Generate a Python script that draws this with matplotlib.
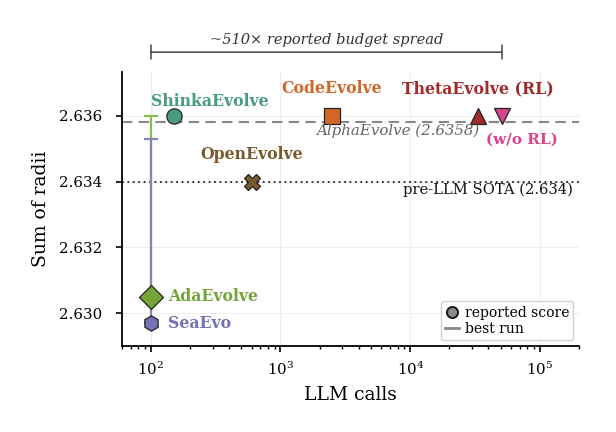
import numpy as np
from matplotlib import pyplot as plt
from matplotlib.lines import Line2D

plt.rcParams['font.family'] = 'DejaVu Serif'

# methods, LLM calls, reported score
names = ["ShinkaEvolve", "CodeEvolve", "ThetaEvolve (RL)", "(w/o RL)", "OpenEvolve", "AdaEvolve", "SeaEvo"]
calls = [150, 2500, 33000, 51000, 600, 100, 100]
scores = [2.6360, 2.6360, 2.6360, 2.6360, 2.6340, 2.6305, 2.6297]
markers = ["o", "s", "^", "v", "X", "D", "h"]
colors = ["#4a9d7c", "#d2672a", "#a32a2a", "#d9448f", "#7a5a2c", "#76a33a", "#7372b5"]
sizes = [11, 11, 11, 11, 11, 12, 11]

# best run (vertical bars) for AdaEvolve and SeaEvo
best_names = ["AdaEvolve", "SeaEvo"]
best_calls = [100, 100]
best_low = [2.6305, 2.6297]
best_high = [2.6360, 2.6353]
best_colors = ["#8cba55", "#8587b3"]

alpha_evolve = 2.6358
pre_llm = 2.634

fig = plt.figure(figsize=(6.16, 4.32), dpi=100)
ax = fig.add_axes([0.198, 0.199, 0.742, 0.634])

ax.set_xscale("log")
ax.set_xlim(60, 2e5)
ax.set_ylim(2.629, 2.63733)

ax.grid(True, which="major", color="#eeeeee", linewidth=0.8)
ax.set_axisbelow(True)

ax.axhline(alpha_evolve, color="#888888", linestyle=(0, (5, 3)), linewidth=1.5, zorder=1)
ax.axhline(pre_llm, color="#222222", linestyle=(0, (1, 2)), linewidth=1.3, zorder=1)

for i in range(len(best_names)):
	ax.errorbar([best_calls[i]], [best_low[i]], yerr=[[0], [best_high[i] - best_low[i]]],
		fmt="none", ecolor=best_colors[i], elinewidth=1.6, capsize=5, capthick=1.6, zorder=2)

for i in range(len(names)):
	ax.plot(calls[i], scores[i], marker=markers[i], markersize=sizes[i], color=colors[i],
		markeredgecolor="#222222", markeredgewidth=0.9, linestyle="none", zorder=3)

# labels
ax.text(100, 2.63645, "ShinkaEvolve", color=colors[0], fontsize=11.3, fontweight="bold", ha="left", va="center")
ax.text(2500, 2.63682, "CodeEvolve", color=colors[1], fontsize=11.3, fontweight="bold", ha="center", va="center")
ax.text(33000, 2.63682, "ThetaEvolve (RL)", color=colors[2], fontsize=11.3, fontweight="bold", ha="center", va="center")
ax.text(72000, 2.63527, "(w/o RL)", color=colors[3], fontsize=11, fontweight="bold", ha="center", va="center")
ax.text(600, 2.63482, "OpenEvolve", color=colors[4], fontsize=11.3, fontweight="bold", ha="center", va="center")
ax.text(137, 2.6305, "AdaEvolve", color=colors[5], fontsize=11.3, fontweight="bold", ha="left", va="center")
ax.text(137, 2.6297, "SeaEvo", color=colors[6], fontsize=11.3, fontweight="bold", ha="left", va="center")
ax.text(7950, 2.63555, "AlphaEvolve (2.6358)", color="#666666", fontsize=10.8, style="italic", ha="center", va="center")
ax.text(179500, 2.63376, "pre-LLM SOTA (2.634)", color="#111111", fontsize=10.6, ha="right", va="center")

# budget spread bracket above the axes
tr = ax.get_xaxis_transform()
ax.annotate("", xy=(100, 1.073), xytext=(51000, 1.073), xycoords=tr, textcoords=tr,
	arrowprops=dict(arrowstyle="|-|", color="#444444", linewidth=1.1, mutation_scale=5,
		shrinkA=0, shrinkB=0), annotation_clip=False)
ax.text(np.sqrt(100 * 51000), 1.117, "~510× reported budget spread", transform=tr,
	fontsize=10.5, style="italic", color="#333333", ha="center", va="center")

ax.spines["top"].set_visible(False)
ax.spines["right"].set_visible(False)
ax.spines["left"].set_linewidth(1.3)
ax.spines["bottom"].set_linewidth(1.3)

ax.set_yticks([2.630, 2.632, 2.634, 2.636])
ax.set_yticklabels(["2.630", "2.632", "2.634", "2.636"])
ax.tick_params(labelsize=10.8, width=1.2, length=4.5)
ax.tick_params(axis="y", pad=10)
ax.tick_params(axis="x", pad=6)
ax.tick_params(which="minor", width=1.0, length=2.5)
ax.set_xlabel("LLM calls", fontsize=13.5, labelpad=6)
ax.set_ylabel("Sum of radii", fontsize=13.5, labelpad=6)

handles = [Line2D([], [], marker="o", color="#888888", markeredgecolor="#111111", markeredgewidth=1.3,
		linestyle="none", markersize=8),
	Line2D([], [], color="#888888", linewidth=2.0)]
ax.legend(handles, ["reported score", "best run"], loc="lower right", fontsize=10,
	handlelength=1.0, handletextpad=0.4, borderpad=0.3, labelspacing=0.2, framealpha=0.9,
	borderaxespad=0.4)

fig.savefig("out.png", dpi=100)
